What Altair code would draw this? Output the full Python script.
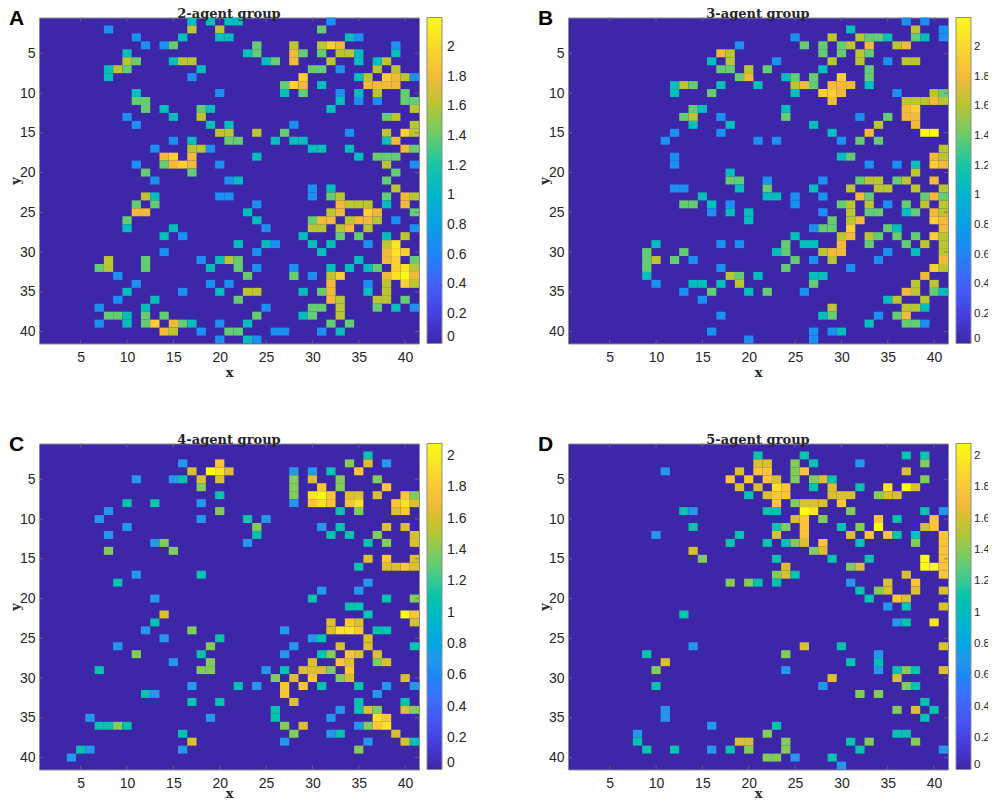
import altair as alt
import pandas as pd

# the cell values only take these levels (colour)
B = 0.69
T = 1.10
G = 1.39
O = 1.61
R = 1.79
L = 1.95
Y = 2.08
M = 2.20

# row: {column: value}, everything else is 0
panel_a = {
    1: {17: T, 19: T, 21: T, 22: T, 32: B},
    2: {8: B, 17: O, 20: O, 31: G},
    3: {11: B, 16: T, 20: T, 21: T, 34: T, 35: B},
    4: {12: B, 14: B, 15: G, 24: G, 28: O, 31: O, 32: L, 33: R, 39: B},
    5: {10: T, 23: T, 24: G, 28: R, 29: G, 31: G, 33: O, 34: O, 35: T, 39: T},
    6: {10: O, 11: G, 15: T, 16: O, 17: O, 25: T, 26: G, 28: R, 32: O, 35: T, 37: T, 38: O},
    7: {8: T, 9: O, 10: G, 18: T, 30: G, 31: G, 33: B, 37: O, 39: O},
    8: {8: T, 17: B, 29: L, 35: T, 36: O, 38: L, 39: R, 40: O, 41: B},
    9: {27: G, 28: L, 29: R, 31: T, 36: R, 37: R, 38: R, 39: R},
    10: {11: T, 20: B, 27: T, 29: G, 33: B, 35: T, 37: O, 40: G},
    11: {11: G, 12: G, 33: T, 35: B, 37: B, 40: G, 41: G},
    12: {12: G, 14: T, 18: G, 19: T, 32: T, 41: O},
    13: {10: B, 15: T, 18: O, 38: G, 39: O},
    14: {11: B, 19: T, 21: T, 28: B, 41: O},
    15: {20: O, 21: O, 24: O, 27: G, 34: B, 38: O, 40: L, 41: O},
    16: {15: B, 17: T, 21: G, 22: G, 26: T, 28: T, 29: T, 38: T, 39: R},
    17: {13: B, 17: O, 18: O, 19: B, 30: T, 31: T, 34: T, 40: R, 41: G},
    18: {14: R, 15: L, 17: R, 24: T, 35: T, 37: G, 38: G, 39: G},
    19: {11: B, 14: G, 15: R, 16: L, 17: R, 20: B, 38: O, 41: B},
    20: {12: G, 17: G, 39: G},
    21: {13: B, 21: B, 22: T, 38: G},
    22: {30: B, 32: T, 39: O},
    23: {12: O, 13: T, 20: B, 21: B, 30: B, 32: G, 33: O, 38: G, 40: R, 41: O},
    24: {11: G, 13: G, 24: B, 33: R, 34: O, 35: O, 36: O, 38: T, 40: R},
    25: {11: R, 12: R, 23: T, 32: O, 33: R, 36: L, 37: R, 41: G},
    26: {10: G, 24: T, 30: G, 31: R, 32: R, 34: O, 35: R, 36: R, 37: O, 39: B},
    27: {10: T, 15: T, 25: B, 30: O, 31: O, 33: O, 34: R, 36: O, 41: B},
    28: {14: T, 16: B, 29: T, 33: G, 35: G, 38: T, 40: O},
    29: {22: T, 25: T, 26: B, 30: T, 32: T, 36: B, 38: O, 39: Y},
    30: {14: B, 24: B, 31: T, 38: R, 39: Y, 40: L},
    31: {8: O, 12: G, 18: B, 20: T, 21: O, 22: G, 35: T, 38: R, 39: L, 41: G},
    32: {7: G, 8: O, 12: G, 19: T, 22: G, 24: B, 28: B, 32: T, 34: T, 36: T, 37: G, 39: L, 40: Y, 41: O},
    33: {9: B, 23: G, 28: G, 30: B, 32: O, 33: L, 38: R, 39: Y, 40: M, 41: R},
    34: {11: B, 19: B, 21: B, 32: R, 36: B, 38: O, 40: L, 41: O},
    35: {10: T, 16: B, 20: T, 23: O, 24: O, 29: T, 31: G, 32: R, 36: T, 38: O},
    36: {9: B, 13: T, 22: G, 32: R, 33: O, 37: O, 38: O, 40: G},
    37: {7: B, 12: T, 25: B, 30: G, 31: G, 33: O, 37: G, 39: T, 41: B},
    38: {8: G, 9: G, 10: T, 12: G, 14: G, 24: G, 29: T, 30: G, 33: O},
    39: {7: B, 10: T, 12: G, 13: L, 15: R, 16: G, 17: T, 20: B, 23: T, 32: G, 34: G},
    40: {14: R, 15: O, 18: B, 21: G, 22: G, 26: B, 27: B, 31: B, 33: T},
    41: {20: B, 23: T, 24: B},
}

panel_b = {
    1: {37: B, 39: B},
    2: {31: T, 38: O, 41: B},
    3: {25: B, 29: O, 32: O, 33: G, 34: G, 35: T, 38: G, 39: T, 41: B},
    4: {19: B, 26: G, 28: G, 30: G, 31: O, 33: R, 36: O, 37: R},
    5: {17: R, 18: O, 28: G, 30: G, 32: O, 33: G},
    6: {16: T, 18: O, 23: B, 29: O, 32: O, 35: B, 37: O, 38: O},
    7: {17: G, 18: G, 20: O, 22: G, 28: T, 33: G},
    8: {19: G, 20: R, 24: T, 25: G, 27: G, 30: L, 33: G},
    9: {12: T, 13: O, 14: G, 17: T, 21: T, 25: O, 26: R, 27: G, 29: R, 30: R, 31: R, 33: T},
    10: {12: T, 16: G, 25: T, 28: L, 29: L, 30: R, 36: B, 40: O, 41: G},
    11: {29: R, 37: O, 38: O, 39: O, 40: R, 41: O},
    12: {14: G, 15: T, 24: T, 37: R, 38: L},
    13: {13: G, 14: O, 17: B, 24: G, 32: B, 35: G, 37: R, 38: R},
    14: {14: T, 18: T, 27: T, 34: O, 38: R},
    15: {12: B, 17: B, 29: T, 33: R, 39: M, 40: M},
    16: {11: B, 21: B, 23: B, 30: B, 32: G, 34: G},
    17: {41: O},
    18: {12: B, 30: T, 31: G, 40: R, 41: O},
    19: {12: B, 33: B, 36: B, 38: T, 40: L, 41: R},
    20: {18: T, 38: O},
    21: {18: G, 19: G, 22: B, 28: B, 32: G, 33: O, 34: O, 36: G, 37: O, 40: R},
    22: {12: B, 13: B, 19: T, 22: G, 27: T, 31: O, 34: O, 35: O, 38: O, 41: O},
    23: {15: T, 22: T, 23: T, 25: B, 28: B, 32: R, 33: G, 39: G, 40: R, 41: G},
    24: {13: G, 14: G, 16: T, 18: B, 25: B, 30: G, 31: O, 33: O, 35: B, 37: G, 39: O, 41: O},
    25: {16: B, 18: T, 20: T, 28: B, 31: O, 33: G, 34: G, 37: T, 38: G, 40: R, 41: O},
    26: {20: T, 29: G, 31: O, 32: R, 40: L, 41: R},
    27: {28: G, 29: G, 27: B, 31: L, 35: G, 36: T, 41: R},
    28: {25: T, 30: O, 31: R, 33: O, 34: G, 36: G, 38: G, 40: L, 41: O},
    29: {10: T, 17: B, 19: B, 24: G, 26: T, 27: T, 30: R, 33: G, 37: G, 39: O, 41: O},
    30: {9: G, 13: G, 23: T, 24: G, 28: O, 29: R, 30: R, 35: B, 38: T, 41: O},
    31: {9: G, 10: O, 12: G, 14: B, 25: G, 27: B, 29: O, 34: B, 41: R},
    32: {9: G, 17: B, 24: G, 31: B, 40: L, 41: O},
    33: {9: T, 18: O, 19: G, 21: T, 27: T, 28: T, 39: R},
    34: {10: B, 14: T, 15: T, 17: T, 19: O, 27: G, 38: O, 40: O},
    35: {13: B, 16: G, 20: T, 22: G, 26: B, 37: R, 38: O, 40: G, 41: T},
    36: {15: B, 35: T, 36: O, 39: O},
    37: {29: O, 37: O, 38: O, 39: T},
    38: {17: B, 28: T, 29: G, 34: B, 36: G, 37: R},
    39: {33: T, 37: G, 38: G, 39: B},
    40: {16: B, 27: B, 29: B, 30: T},
    41: {20: B, 27: B},
}

panel_c = {
    2: {36: T},
    3: {16: B, 20: R, 34: G, 36: O, 38: B},
    4: {17: O, 19: Y, 20: L, 21: O, 28: B, 30: B, 32: T, 35: R},
    5: {11: B, 15: B, 16: T, 18: O, 20: O, 28: G, 30: O, 33: G, 37: G},
    6: {18: G, 28: G, 31: R, 33: G, 38: R},
    7: {20: T, 28: G, 30: L, 31: Y, 32: R, 34: O, 35: O, 37: O, 40: R, 41: G},
    8: {10: T, 13: T, 18: B, 28: B, 30: R, 31: L, 32: R, 34: R, 35: L, 39: R, 40: L, 41: O},
    9: {8: B, 20: G, 33: T, 35: G, 39: O, 40: R},
    10: {7: B, 18: B, 23: T, 25: B},
    11: {10: B, 24: G, 31: B, 33: T, 38: O, 40: O},
    12: {8: B, 24: T, 32: T, 34: T, 37: G, 41: O},
    13: {13: B, 14: G, 23: B, 36: T, 38: G, 41: O},
    14: {8: G, 15: G},
    15: {36: O, 38: R, 41: O},
    16: {35: T, 38: O, 39: O, 40: R, 41: O},
    17: {11: B, 18: T},
    18: {9: T, 36: B},
    19: {31: B, 35: B},
    20: {13: B, 30: T, 38: T, 41: G},
    21: {34: T, 35: T},
    22: {14: O, 36: T, 40: Y, 41: R},
    23: {13: T, 32: O, 34: R, 35: O, 41: O},
    24: {12: B, 17: G, 27: B, 32: O, 33: L, 34: L, 35: R, 37: T, 38: T},
    25: {14: B, 20: T, 30: B, 31: T, 36: O},
    26: {9: B, 19: G, 28: B, 33: O, 36: O, 41: T},
    27: {11: G, 18: T, 27: B, 31: T, 32: G, 34: R, 35: O, 37: O},
    28: {15: B, 19: G, 30: O, 33: R, 34: O, 37: G, 38: O},
    29: {7: T, 18: G, 19: G, 25: B, 27: T, 29: O, 30: O, 31: O, 32: G, 34: R},
    30: {26: G, 28: O, 30: R, 33: G, 34: O, 40: O},
    31: {17: B, 22: T, 24: B, 27: R, 29: R, 31: T, 35: T, 38: B, 41: B},
    32: {12: T, 13: B, 27: R, 37: B},
    33: {17: T, 20: T, 28: O, 35: T, 40: T},
    34: {26: T, 33: B, 35: T, 36: O, 37: G, 40: O, 41: G},
    35: {6: B, 19: B, 26: T, 32: B, 37: L, 38: R},
    36: {7: T, 8: T, 9: G, 10: T, 27: G, 29: O, 35: B, 36: G, 37: R, 38: L},
    37: {16: T, 28: G, 32: B, 33: T, 39: O},
    38: {17: O, 27: B, 36: B, 40: O, 41: T},
    39: {5: T, 6: B, 16: B, 35: G},
    40: {4: B},
}

panel_d = {
    2: {21: T, 26: T, 37: T, 39: T},
    3: {21: O, 22: O, 25: G, 27: T, 32: B, 39: G},
    4: {11: B, 19: O, 21: R, 22: R, 25: G, 26: R, 37: O},
    5: {18: R, 20: R, 22: R, 23: O, 25: G, 27: G, 28: O, 29: T, 39: G},
    6: {19: O, 21: O, 23: L, 24: R, 27: T, 29: O, 32: T, 35: L, 37: Y, 38: O},
    7: {20: T, 22: O, 23: R, 24: R, 29: O, 30: O, 31: O, 34: G, 35: O, 36: O},
    8: {23: R, 25: G, 26: O, 27: O, 28: O, 30: R},
    9: {13: T, 14: B, 22: T, 23: T, 26: Y, 27: L, 31: G, 39: T, 41: B},
    10: {25: O, 26: R, 28: G, 34: R, 36: T, 40: R},
    11: {14: T, 23: T, 24: G, 26: R, 30: T, 32: G, 34: Y, 39: O, 40: R},
    12: {10: B, 19: T, 23: O, 26: R, 31: O, 33: R, 35: R, 36: T, 38: T, 41: R},
    13: {18: T, 22: T, 24: T, 25: G, 26: O, 28: R, 32: T, 38: G, 41: R},
    14: {14: O, 27: G, 28: O, 41: R},
    15: {15: G, 23: T, 29: T, 33: T, 39: Y, 41: R},
    16: {24: O, 31: G, 32: O, 39: Y, 40: Y, 41: R},
    17: {23: G, 24: O, 25: T, 37: O, 41: R},
    18: {18: G, 20: G, 21: T, 23: T, 31: B, 35: O, 38: R},
    19: {32: T, 34: G, 35: O, 38: O, 41: O},
    20: {33: T, 36: R, 37: O},
    21: {35: B, 37: T, 41: O},
    22: {13: T},
    23: {36: B, 37: T, 40: L},
    26: {14: B, 26: O, 30: T, 41: O},
    27: {9: T, 24: G, 34: B},
    28: {11: O, 31: T, 34: T},
    29: {10: G, 24: B, 34: B, 36: T, 37: G, 38: T, 41: O},
    30: {29: O, 36: O},
    31: {10: T, 28: B, 37: G, 38: T},
    32: {32: G, 34: G},
    33: {39: T},
    34: {11: B, 36: G, 38: O, 40: T},
    35: {11: B, 39: T},
    36: {16: B, 23: T},
    37: {8: B, 22: G, 36: T, 37: T},
    38: {8: T, 19: O, 20: O, 24: G, 31: T, 33: G, 38: G},
    39: {9: T, 12: T, 16: B, 18: T, 20: G, 24: G, 32: T, 41: B},
    40: {22: G, 23: G, 25: B, 29: T},
    41: {30: B},
}

titles = ["2-agent group", "3-agent group", "4-agent group", "5-agent group"]
letters = ["A", "B", "C", "D"]
color_max = [2.20, 2.20, 2.08, 2.08]
x_ticks = [5, 10, 15, 20, 25, 30, 35, 40]
y_ticks = [5, 10, 15, 20, 25, 30, 35, 40]
bar_ticks = [0, 0.2, 0.4, 0.6, 0.8, 1, 1.2, 1.4, 1.6, 1.8, 2]

# parula
parula_pos = [0, 5 / 63, 10 / 63, 15 / 63, 21 / 63, 26 / 63, 31 / 63, 37 / 63, 42 / 63, 47 / 63, 52 / 63, 57 / 63, 1]
parula = ["#3e26a8", "#463cde", "#4758f8", "#3875fe", "#2796eb", "#18addb", "#0bbdbd",
          "#3fca8e", "#81cc59", "#c5c22a", "#f8ba3d", "#fad62d", "#f9fb15"]

W = 380
H = 326
text_col = "#262626"
xs = alt.Scale(domain=[0.5, 41.5], nice=False, zero=False)
ys = alt.Scale(domain=[41.5, 0.5], nice=False, zero=False)
axis_style = dict(grid=False, domain=False, ticks=False, titleFont="DejaVu Serif", titleFontWeight="bold", titleFontSize=13,
                  labelFont="Liberation Sans", labelFontSize=14, labelColor=text_col, titleColor=text_col)


def make_panel(cells, title, letter, vmax, x_title_pad, bar_font, bar_gap):
    rows = []
    for r, cols in cells.items():
        for c, v in cols.items():
            rows.append({"row": r, "col": c, "v": v})

    x_axis = alt.Axis(values=x_ticks, title="x", labelPadding=7, titlePadding=x_title_pad, **axis_style)
    y_axis = alt.Axis(values=y_ticks, title="y", labelPadding=4, titlePadding=-3, **axis_style)

    rect = alt.Chart(pd.DataFrame(rows)).transform_calculate(
        x0="datum.col - 0.5", x1="datum.col + 0.5",
        y0="datum.row - 0.5", y1="datum.row + 0.5",
    ).mark_rect(strokeWidth=0).encode(
        x=alt.X("x0:Q", scale=xs, axis=x_axis),
        x2="x1:Q",
        y=alt.Y("y0:Q", scale=ys, axis=y_axis),
        y2="y1:Q",
        color=alt.Color("v:Q", scale=alt.Scale(domain=[p * vmax for p in parula_pos], range=parula),
                        legend=alt.Legend(title=None, orient="right", offset=8, padding=0, values=bar_ticks, format="~g",
                                          gradientLength=H, gradientThickness=15, gradientStrokeColor="#8c8c8c",
                                          gradientStrokeWidth=1, labelFont="Liberation Sans", labelFontSize=bar_font,
                                          labelColor=text_col, labelOffset=bar_gap)),
    )

    # small inward ticks on all four sides of the box
    tx = alt.Chart(pd.DataFrame({"t": x_ticks})).encode(x=alt.X("t:Q", scale=xs, axis=x_axis))
    ty = alt.Chart(pd.DataFrame({"t": y_ticks})).encode(y=alt.Y("t:Q", scale=ys, axis=y_axis))
    tick = dict(color="#6e6e6e", strokeWidth=0.8)
    ticks = [
        tx.mark_rule(**tick).encode(y=alt.value(0), y2=alt.value(4)),
        tx.mark_rule(**tick).encode(y=alt.value(H - 4), y2=alt.value(H)),
        ty.mark_rule(**tick).encode(x=alt.value(0), x2=alt.value(4)),
        ty.mark_rule(**tick).encode(x=alt.value(W - 4), x2=alt.value(W)),
    ]

    label = alt.Chart(pd.DataFrame({"t": [letter]})).mark_text(
        font="Liberation Sans", fontWeight="bold", fontSize=21, align="left", baseline="alphabetic", color="black",
    ).encode(text="t:N", x=alt.value(-30), y=alt.value(7))

    head = alt.Chart(pd.DataFrame({"t": [title]})).mark_text(
        font="DejaVu Serif", fontWeight="bold", fontSize=13, align="center", baseline="alphabetic", color=text_col,
    ).encode(text="t:N", x=alt.value(W / 2), y=alt.value(0))

    return alt.layer(rect, *ticks, label, head).properties(width=W, height=H)


a = make_panel(panel_a, titles[0], letters[0], color_max[0], 2, 14, 5)
b = make_panel(panel_b, titles[1], letters[1], color_max[1], 2, 11.5, 3)
c = make_panel(panel_c, titles[2], letters[2], color_max[2], -3, 14, 5)
d = make_panel(panel_d, titles[3], letters[3], color_max[3], -3, 11.5, 3)

chart = alt.vconcat(
    alt.hconcat(a, b, spacing=69).resolve_scale(color="independent"),
    alt.hconcat(c, d, spacing=69).resolve_scale(color="independent"),
    spacing=52,
).resolve_scale(color="independent").properties(
    padding={"left": 0, "top": -1.5, "right": -3, "bottom": -3},
).configure_view(
    fill=parula[0], stroke="#8c8c8c", strokeWidth=1,
)

chart.save("out.html", embed_options={"renderer": "svg", "actions": False})
